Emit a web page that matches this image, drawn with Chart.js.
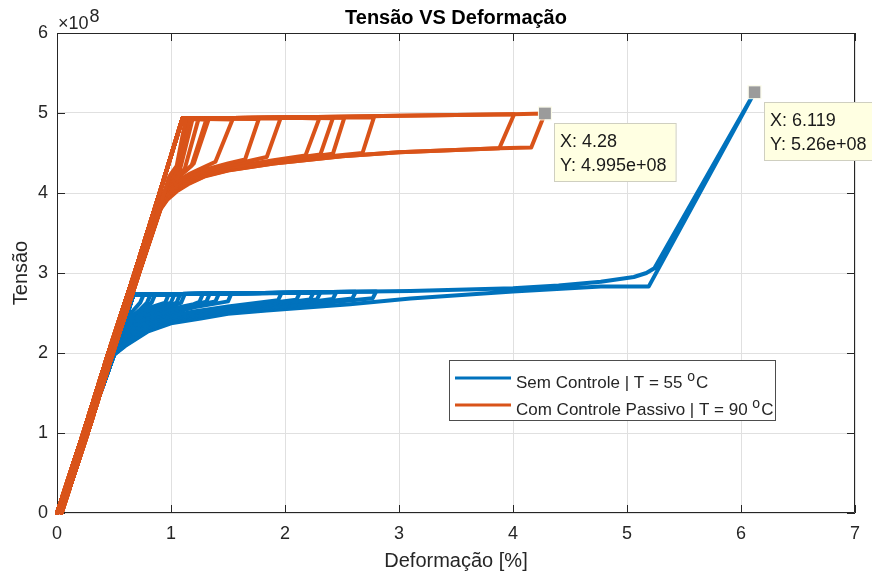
<!DOCTYPE html>
<html>
<head>
<meta charset="utf-8">
<title>Tensão VS Deformação</title>
<script src="https://cdn.jsdelivr.net/npm/chart.js@4.4.1/dist/chart.umd.min.js"></script>
<style>
  body { margin: 0; background: #ffffff; overflow: hidden; }
  #chart-container { width: 872px; height: 573px; }
</style>
</head>
<body>
<div id="chart-container"><canvas id="myChart" width="872" height="573"></canvas></div>
<script>
// stress values are in units of 1e8 (shown as "x10^8" on the axis)
var xTicks = [0, 1, 2, 3, 4, 5, 6, 7]
var yTicks = [0, 1, 2, 3, 4, 5, 6]
var seriesNames = ["Sem Controle | T = 55 ", "Com Controle Passivo | T = 90 "]

// blue: loading path (elastic + plateau + hardening) and elastic return
var blueLoadX = [0, 0.25, 0.50, 0.67, 1.50, 2.57, 3.10, 4.00, 4.40, 4.77, 5.06, 5.17, 5.24, 6.119]
var blueLoadY = [0, 0.98, 1.98, 2.73, 2.745, 2.765, 2.775, 2.81, 2.845, 2.89, 2.95, 3.00, 3.06, 5.26]
var blueBackX = [0.50, 0.25, 0]
var blueBackY = [1.98, 0.98, 0]

// blue unloading branches, one per cycle, first point = max of the cycle
var blueBranches = [
    [[0.76, 2.73], [0.73, 2.63], [0.65, 2.50], [0.60, 2.42]],
    [[0.82, 2.73], [0.79, 2.63], [0.72, 2.53], [0.65, 2.45], [0.59, 2.38]],
    [[0.86, 2.73], [0.83, 2.63], [0.80, 2.60], [0.72, 2.50], [0.65, 2.42], [0.58, 2.34]],
    [[0.98, 2.735], [0.95, 2.63], [0.80, 2.56], [0.72, 2.48], [0.65, 2.39], [0.57, 2.29]],
    [[1.03, 2.735], [1.00, 2.63], [0.80, 2.53], [0.72, 2.45], [0.65, 2.37], [0.56, 2.25]],
    [[1.08, 2.735], [1.05, 2.63], [1.00, 2.60], [0.80, 2.50], [0.72, 2.43], [0.65, 2.35], [0.555, 2.22]],
    [[1.12, 2.735], [1.09, 2.63], [1.00, 2.58], [0.80, 2.48], [0.72, 2.41], [0.65, 2.33], [0.55, 2.20]],
    [[1.28, 2.74], [1.25, 2.64], [1.20, 2.61], [1.00, 2.55], [0.80, 2.45], [0.72, 2.38], [0.65, 2.30], [0.545, 2.18]],
    [[1.34, 2.74], [1.31, 2.64], [1.20, 2.60], [1.00, 2.53], [0.80, 2.43], [0.72, 2.36], [0.65, 2.28], [0.54, 2.16]],
    [[1.42, 2.74], [1.39, 2.645], [1.20, 2.59], [1.00, 2.51], [0.80, 2.41], [0.72, 2.34], [0.65, 2.26], [0.535, 2.13]],
    [[1.53, 2.745], [1.50, 2.645], [1.20, 2.57], [1.00, 2.49], [0.80, 2.39], [0.72, 2.32], [0.65, 2.24], [0.53, 2.11]],
    [[1.97, 2.75], [1.94, 2.66], [1.50, 2.58], [1.20, 2.52], [1.00, 2.46], [0.80, 2.36], [0.72, 2.29], [0.65, 2.22], [0.52, 2.07]],
    [[2.13, 2.755], [2.10, 2.665], [1.50, 2.56], [1.20, 2.50], [1.00, 2.44], [0.80, 2.34], [0.72, 2.27], [0.65, 2.20], [0.515, 2.05]],
    [[2.25, 2.755], [2.22, 2.67], [1.50, 2.54], [1.20, 2.48], [1.00, 2.42], [0.80, 2.32], [0.72, 2.25], [0.65, 2.18], [0.51, 2.02]],
    [[2.31, 2.755], [2.28, 2.67], [1.84, 2.59], [1.50, 2.53], [1.20, 2.47], [1.00, 2.41], [0.80, 2.31], [0.70, 2.22], [0.60, 2.12], [0.505, 2.00]],
    [[2.45, 2.76], [2.42, 2.675], [1.84, 2.57], [1.50, 2.52], [1.20, 2.46], [1.00, 2.40], [0.80, 2.30], [0.70, 2.21], [0.60, 2.11], [0.50, 1.99]],
    [[2.62, 2.765], [2.59, 2.68], [1.84, 2.56], [1.50, 2.51], [1.20, 2.45], [1.00, 2.39], [0.80, 2.29], [0.70, 2.20], [0.60, 2.10], [0.50, 1.98]],
    [[2.80, 2.77], [2.77, 2.685], [2.30, 2.62], [1.84, 2.55], [1.50, 2.50], [1.20, 2.44], [1.00, 2.38], [0.80, 2.28], [0.70, 2.19], [0.60, 2.10], [0.50, 1.98]],
    [[6.119, 5.26], [5.19, 2.83], [4.77, 2.83], [4.00, 2.77], [3.10, 2.68], [2.57, 2.61], [1.84, 2.53], [1.50, 2.49], [1.26, 2.43], [1.00, 2.37], [0.80, 2.27], [0.70, 2.18], [0.60, 2.09], [0.50, 1.98]]
]

// orange: loading path and elastic return
var orangeLoadX = [0, 0.23, 0.45, 0.68, 0.90, 1.10, 2.00, 3.00, 4.00, 4.28]
var orangeLoadY = [0, 1.00, 2.00, 3.00, 4.00, 4.93, 4.945, 4.965, 4.985, 4.995]
var orangeBackX = [0.94, 0.72, 0.49, 0.27, 0.04]
var orangeBackY = [4.00, 3.00, 2.00, 1.00, 0]

var orangeBranches = [
    [[1.13, 4.93], [1.05, 4.34], [1.00, 4.24], [0.98, 4.19]],
    [[1.16, 4.93], [1.06, 4.30], [1.02, 4.22], [0.98, 4.16]],
    [[1.19, 4.93], [1.08, 4.30], [1.03, 4.21], [0.98, 4.12]],
    [[1.24, 4.92], [1.12, 4.30], [1.06, 4.21], [1.01, 4.14], [0.97, 4.08]],
    [[1.31, 4.92], [1.18, 4.34], [1.10, 4.24], [1.03, 4.15], [0.97, 4.05]],
    [[1.33, 4.92], [1.20, 4.37], [1.12, 4.27], [1.05, 4.18], [0.99, 4.09], [0.96, 4.03]],
    [[1.54, 4.92], [1.39, 4.39], [1.30, 4.33], [1.15, 4.23], [1.05, 4.14], [0.98, 4.05], [0.95, 3.98]],
    [[1.77, 4.925], [1.65, 4.42], [1.50, 4.37], [1.30, 4.29], [1.15, 4.20], [1.05, 4.11], [0.98, 4.02], [0.94, 3.94]],
    [[1.96, 4.93], [1.84, 4.45], [1.50, 4.34], [1.30, 4.27], [1.15, 4.18], [1.05, 4.09], [0.97, 3.99], [0.93, 3.90]],
    [[2.30, 4.93], [2.18, 4.47], [1.90, 4.41], [1.50, 4.32], [1.30, 4.25], [1.15, 4.16], [1.05, 4.07], [0.97, 3.97], [0.92, 3.87]],
    [[2.42, 4.935], [2.31, 4.48], [1.90, 4.40], [1.50, 4.31], [1.30, 4.24], [1.15, 4.15], [1.05, 4.06], [0.97, 3.96], [0.92, 3.85]],
    [[2.52, 4.94], [2.42, 4.49], [1.90, 4.39], [1.50, 4.30], [1.30, 4.23], [1.15, 4.14], [1.05, 4.05], [0.97, 3.95], [0.91, 3.83]],
    [[2.78, 4.945], [2.68, 4.50], [2.20, 4.43], [1.90, 4.38], [1.50, 4.29], [1.30, 4.22], [1.15, 4.13], [1.05, 4.04], [0.97, 3.94], [0.91, 3.81]],
    [[4.01, 4.985], [3.88, 4.56], [3.00, 4.51], [2.50, 4.46], [1.90, 4.37], [1.50, 4.285], [1.30, 4.215], [1.15, 4.12], [1.05, 4.03], [0.97, 3.93], [0.90, 3.79]],
    [[4.28, 4.995], [4.16, 4.57], [3.88, 4.56], [3.00, 4.51], [2.50, 4.46], [1.90, 4.37], [1.50, 4.28], [1.30, 4.21], [1.15, 4.11], [1.05, 4.02], [0.97, 3.92], [0.90, 3.78]]
]

// data tips shown on the figure
var tipPoints = [[4.28, 4.995], [6.119, 5.26]]

var blueColor = "#0072BD"
var orangeColor = "#D95319"
var axisColor = "#262626"

function buildLoop(loadX, loadY, branch, backX, backY)
{
    var top = branch[0]
    var last = branch[branch.length - 1]
    var pts = []
    for (var i = 0; i < loadX.length; i++)
    {
        if (loadX[i] < top[0]) pts.push({x: loadX[i], y: loadY[i]})
    }
    for (var j = 0; j < branch.length; j++)
    {
        pts.push({x: branch[j][0], y: branch[j][1]})
    }
    for (var k = 0; k < backX.length; k++)
    {
        if (backY[k] < last[1]) pts.push({x: backX[k], y: backY[k]})
    }
    return pts
}

function makeDatasets()
{
    var sets = []
    // orange first so it is drawn on top (chart.js draws index 0 last)
    orangeBranches.forEach(function (b) {
        sets.push({data: buildLoop(orangeLoadX, orangeLoadY, b, orangeBackX, orangeBackY), borderColor: orangeColor})
    })
    blueBranches.forEach(function (b) {
        sets.push({data: buildLoop(blueLoadX, blueLoadY, b, blueBackX, blueBackY), borderColor: blueColor})
    })
    sets.forEach(function (s) {
        s.showLine = true
        s.pointRadius = 0
        s.borderWidth = 4
        s.borderJoinStyle = "round"
        s.borderCapStyle = "round"
        s.fill = false
        s.tension = 0
        s.clip = false
    })
    return sets
}

function tipText(v)
{
    var e = (v * 1e8).toExponential()
    var parts = e.split("e")
    var exp = parseInt(parts[1], 10)
    var expStr = (exp < 0 ? "-" : "+") + (Math.abs(exp) < 10 ? "0" : "") + Math.abs(exp)
    return parts[0] + "e" + expStr
}

var decorPlugin = {
    id: "decor",
    beforeDraw: function (chart) {
        var ctx = chart.ctx
        ctx.save()
        ctx.fillStyle = "#ffffff"
        ctx.fillRect(0, 0, chart.width, chart.height)
        ctx.restore()
    },
    beforeDatasetsDraw: function (chart) {
        var ctx = chart.ctx
        var a = chart.chartArea
        var xs = chart.scales.x
        var ys = chart.scales.y
        ctx.save()
        ctx.strokeStyle = axisColor
        ctx.lineWidth = 1
        ctx.beginPath()
        ctx.rect(a.left + 0.5, a.top + 0.5, a.right - a.left - 1, a.bottom - a.top - 1)
        ctx.stroke()
        ctx.beginPath()
        xTicks.forEach(function (t) {
            var px = Math.round(xs.getPixelForValue(t)) + 0.5
            ctx.moveTo(px, a.bottom)
            ctx.lineTo(px, a.bottom - 8)
            ctx.moveTo(px, a.top)
            ctx.lineTo(px, a.top + 8)
        })
        yTicks.forEach(function (t) {
            var py = Math.round(ys.getPixelForValue(t)) + 0.5
            ctx.moveTo(a.left, py)
            ctx.lineTo(a.left + 8, py)
            ctx.moveTo(a.right, py)
            ctx.lineTo(a.right - 8, py)
        })
        ctx.stroke()
        ctx.restore()
    },
    afterDraw: function (chart) {
        var ctx = chart.ctx
        var a = chart.chartArea
        var xs = chart.scales.x
        var ys = chart.scales.y
        var cx = (a.left + a.right) / 2
        var cy = (a.top + a.bottom) / 2
        ctx.save()

        // title and axis labels
        ctx.fillStyle = "#000000"
        ctx.textAlign = "center"
        ctx.textBaseline = "alphabetic"
        ctx.font = "bold 20px 'Liberation Sans', Arial, sans-serif"
        ctx.fillText("Tensão VS Deformação", cx, 24)
        ctx.fillStyle = axisColor
        ctx.font = "20px 'Liberation Sans', Arial, sans-serif"
        ctx.fillText("Deformação [%]", cx, 567)
        ctx.save()
        ctx.translate(27, cy)
        ctx.rotate(-Math.PI / 2)
        ctx.fillText("Tensão", 0, 0)
        ctx.restore()

        // exponent
        ctx.textAlign = "left"
        ctx.font = "18px 'Liberation Sans', Arial, sans-serif"
        ctx.fillText("\u00d710", a.left + 1, 29)
        var w10 = ctx.measureText("\u00d710").width
        ctx.fillText("8", a.left + 2 + w10, 22)

        // legend
        var lx = 449, ly = 360, lw = 326, lh = 60
        ctx.fillStyle = "#ffffff"
        ctx.fillRect(lx, ly, lw, lh)
        ctx.strokeStyle = "#4d4d4d"
        ctx.lineWidth = 1
        ctx.strokeRect(lx + 0.5, ly + 0.5, lw, lh)
        var colors = [blueColor, orangeColor]
        var lineYs = [378, 405]
        var baseYs = [388, 415]
        for (var i = 0; i < seriesNames.length; i++)
        {
            ctx.strokeStyle = colors[i]
            ctx.lineWidth = 3
            ctx.beginPath()
            ctx.moveTo(455, lineYs[i])
            ctx.lineTo(511, lineYs[i])
            ctx.stroke()
            ctx.fillStyle = axisColor
            ctx.font = "17px 'Liberation Sans', Arial, sans-serif"
            ctx.fillText(seriesNames[i], 516, baseYs[i])
            var tx = 516 + ctx.measureText(seriesNames[i]).width
            ctx.font = "14px 'Liberation Sans', Arial, sans-serif"
            ctx.fillText("o", tx, baseYs[i] - 7)
            tx += ctx.measureText("o").width
            ctx.font = "17px 'Liberation Sans', Arial, sans-serif"
            ctx.fillText("C", tx + 1, baseYs[i])
        }

        // data tips
        tipPoints.forEach(function (p) {
            var px = xs.getPixelForValue(p[0])
            var py = ys.getPixelForValue(p[1])
            var l1 = "X: " + p[0]
            var l2 = "Y: " + tipText(p[1])
            ctx.font = "18px 'Liberation Sans', Arial, sans-serif"
            var bw = Math.max(ctx.measureText(l1).width, ctx.measureText(l2).width) + 15
            var bx = Math.round(px + 9), by = Math.round(py + 10)
            ctx.fillStyle = "#ffffe2"
            ctx.fillRect(bx, by, bw, 58)
            ctx.strokeStyle = "#cfcfc0"
            ctx.lineWidth = 1
            ctx.strokeRect(bx + 0.5, by + 0.5, bw, 58)
            ctx.fillStyle = "#1a1a1a"
            ctx.textBaseline = "middle"
            ctx.fillText(l1, bx + 6, by + 19)
            ctx.fillText(l2, bx + 6, by + 43)
            ctx.textBaseline = "alphabetic"
            ctx.fillStyle = "#9b9b9b"
            ctx.fillRect(px - 6, py - 6, 12, 12)
            ctx.strokeStyle = "#fbfbe8"
            ctx.strokeRect(px - 6.5, py - 6.5, 13, 13)
        })
        ctx.restore()
    }
}

function createGraph()
{
    var ctx = document.getElementById("myChart")
    var tickFont = {family: "'Liberation Sans', Arial, sans-serif", size: 18}
    var myChart = new Chart(ctx, {
        type: "scatter",
        data: { datasets: makeDatasets() },
        options: {
            responsive: false,
            animation: false,
            events: [],
            layout: { padding: { top: 33, right: 17, left: 0, bottom: 0 } },
            scales: {
                x: {
                    type: "linear",
                    min: 0,
                    max: 7,
                    afterFit: function (s) { s.height = 60 },
                    afterBuildTicks: function (s) { s.ticks = xTicks.map(function (v) { return {value: v} }) },
                    ticks: { font: tickFont, color: axisColor, padding: 10, maxRotation: 0,
                        callback: function (v) { return String(v) } },
                    grid: { color: "#e0e0e0", lineWidth: 1, drawTicks: false },
                    border: { display: false }
                },
                y: {
                    type: "linear",
                    min: 0,
                    max: 6,
                    afterFit: function (s) { s.width = 57 },
                    afterBuildTicks: function (s) { s.ticks = yTicks.map(function (v) { return {value: v} }) },
                    ticks: { font: tickFont, color: axisColor, padding: 9,
                        callback: function (v) { return String(v) } },
                    grid: { color: "#e0e0e0", lineWidth: 1, drawTicks: false },
                    border: { display: false }
                }
            },
            plugins: {
                legend: { display: false },
                title: { display: false },
                tooltip: { enabled: false }
            }
        },
        plugins: [decorPlugin]
    })
    return myChart
}

createGraph()
</script>
</body>
</html>
